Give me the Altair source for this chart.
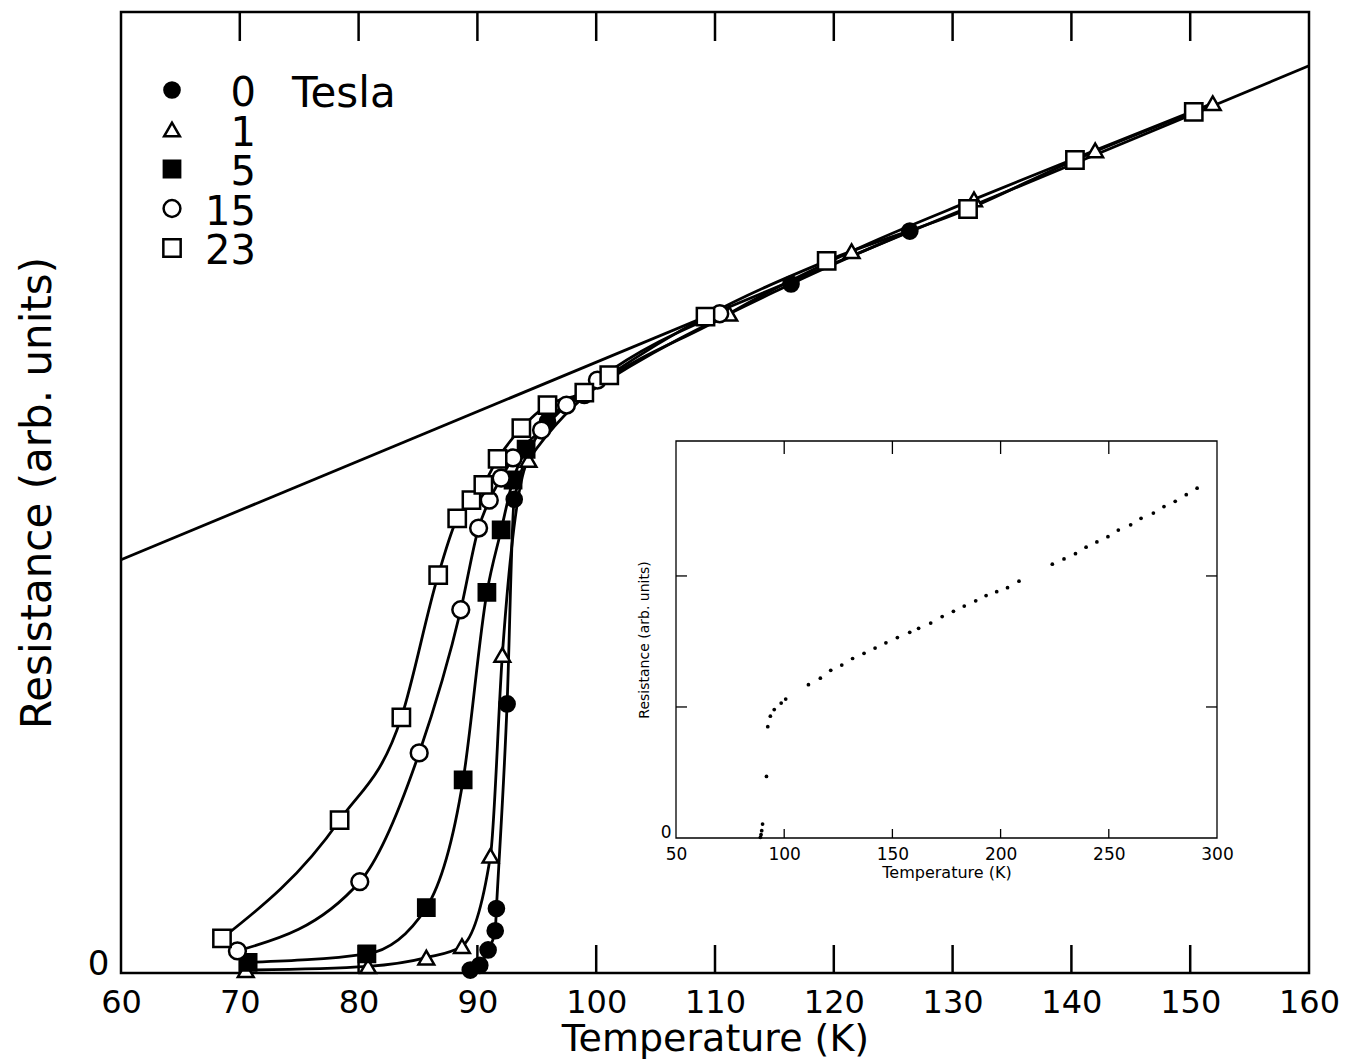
import altair as alt
import pandas as pd

# ---------------- data ----------------
series_labels = ["0", "1", "5", "15", "23"]

b0_T = [89.4, 90.2, 90.9, 91.5, 91.6, 92.5, 93.1, 95.9, 99.0, 116.4, 126.4]
b0_R = [0.3, 0.8, 2.4, 4.4, 6.7, 28.0, 49.3, 57.4, 60.1, 71.7, 77.2]

b1_T = [70.5, 80.8, 85.7, 88.7, 91.1, 92.1, 94.3, 111.2, 121.5, 131.8, 142.0, 151.9]
b1_R = [0.3, 0.7, 1.6, 2.8, 12.2, 33.1, 53.4, 68.6, 75.1, 80.5, 85.6, 90.5]

b5_T = [70.7, 80.7, 85.7, 88.8, 90.8, 92.0, 93.0, 94.1]
b5_R = [1.1, 2.0, 6.8, 20.1, 39.6, 46.1, 51.3, 54.5]

b15_T = [69.8, 80.1, 85.1, 88.6, 90.1, 91.0, 92.0, 93.0, 95.4, 97.5, 100.1, 110.4]
b15_R = [2.3, 9.5, 22.9, 37.8, 46.3, 49.2, 51.5, 53.6, 56.5, 59.1, 61.7, 68.6]

b23_T = [68.5, 78.4, 83.6, 86.7, 88.3, 89.5, 90.5, 91.7, 93.7, 95.9, 99.0, 101.1,
         109.2, 119.4, 131.3, 140.3, 150.3]
b23_R = [3.6, 15.9, 26.6, 41.4, 47.3, 49.2, 50.8, 53.5, 56.7, 59.1, 60.4, 62.2,
         68.3, 74.1, 79.5, 84.6, 89.6]

# linear normal-state extrapolation line (end points)
ref_T = [60, 160]
ref_R = [43.0, 94.4]

# main axis ticks / labels
main_x_ticks = [60, 70, 80, 90, 100, 110, 120, 130, 140, 150, 160]
main_inner_ticks = [70, 80, 90, 100, 110, 120, 130, 140, 150]

# inset (0 T, wide temperature range)
inset_T = [89.0, 89.3, 89.6, 90.0, 91.8, 92.4, 93.6, 95.4, 98.6, 100.7, 111.2, 116.7,
           121.5, 126.6, 131.6, 136.9, 142.0, 147.0, 152.3, 158.0, 162.1, 167.7,
           173.0, 178.2, 183.2, 188.5, 193.3, 198.2, 203.2, 208.5, 223.9, 229.3,
           234.6, 239.5, 244.5, 249.6, 254.4, 260.1, 264.9, 270.6, 275.5, 280.7,
           285.8, 290.8]
inset_R = [0.005, 0.025, 0.056, 0.106, 0.47, 0.85, 0.93, 0.98, 1.03, 1.06, 1.17, 1.22,
           1.28, 1.32, 1.37, 1.41, 1.45, 1.49, 1.53, 1.57, 1.60, 1.64,
           1.69, 1.73, 1.77, 1.81, 1.85, 1.88, 1.91, 1.96, 2.09, 2.13,
           2.17, 2.22, 2.26, 2.30, 2.35, 2.39, 2.44, 2.48, 2.53, 2.57,
           2.62, 2.67]
inset_x_ticks = [50, 100, 150, 200, 250, 300]
inset_inner_x_ticks = [100, 150, 200, 250]
inset_inner_y_ticks = [1, 2]
inset_x_domain = [50, 300]
inset_y_domain = [0, 3.03]

# ---------------- tables ----------------
rows = []
for lab, Ts, Rs in zip(series_labels, [b0_T, b1_T, b5_T, b15_T, b23_T],
                       [b0_R, b1_R, b5_R, b15_R, b23_R]):
    for t, r in zip(Ts, Rs):
        rows.append({"T": t, "R": r, "B": lab})
df = pd.DataFrame(rows)
ref_df = pd.DataFrame({"T": ref_T, "R": ref_R})
tick_df = pd.DataFrame({"tick": main_inner_ticks})
inset_df = pd.DataFrame({"T": inset_T, "R": inset_R})
frame_df = pd.DataFrame({"x0": [inset_x_domain[0]], "x1": [inset_x_domain[1]],
                         "y0": [inset_y_domain[0]], "y1": [inset_y_domain[1]]})
itx_df = pd.DataFrame({"tick": inset_inner_x_ticks})
ity_df = pd.DataFrame({"tick": inset_inner_y_ticks})
legend_df = pd.DataFrame({"B": series_labels})

FONT = "DejaVu Sans"
W, H = 1188, 961
LW = 2.8

# shared encodings for the field strength categories
shape_enc = alt.Shape("B:N", scale=alt.Scale(domain=series_labels,
                      range=["circle", "triangle-up", "square", "circle", "square"]),
                      legend=None)
fill_enc = alt.Fill("B:N", scale=alt.Scale(domain=series_labels,
                    range=["black", "white", "black", "white", "white"]),
                    legend=None)
size_enc = alt.Size("B:N", scale=alt.Scale(domain=series_labels,
                    range=[230, 300, 380, 150, 400]), legend=None)

# ---------------- main panel ----------------
xs = alt.Scale(domain=[60, 160], nice=False, zero=False)
ys = alt.Scale(domain=[0, 100], nice=False, zero=False)
ax_x = alt.Axis(values=main_x_ticks, ticks=False, tickSize=0, domain=False, grid=False,
                labelFontSize=32, labelPadding=14, labelFont=FONT, labelFlush=False,
                labelOverlap=False,
                title="Temperature (K)", titleFontSize=38, titlePadding=2,
                titleFont=FONT, titleFontWeight="normal", labelColor="black",
                titleColor="black")
ax_y = alt.Axis(values=[0], ticks=False, tickSize=0, domain=False, grid=False,
                labelFontSize=34, labelPadding=12, labelFont=FONT, labelFlush=False,
                labelOffset=-9,
                title="Resistance (arb. units)", titleFontSize=42, titlePadding=28,
                titleFont=FONT, titleFontWeight="normal", labelColor="black",
                titleColor="black")


def xm(field):
    return alt.X(f"{field}:Q", scale=xs, axis=ax_x)


def ym(field):
    return alt.Y(f"{field}:Q", scale=ys, axis=ax_y)


ref_line = alt.Chart(ref_df).mark_line(color="black", strokeWidth=LW).encode(
    x=xm("T"), y=ym("R"))

curves = alt.Chart(df).mark_line(color="black", strokeWidth=LW,
                                 interpolate="monotone").encode(
    x=xm("T"), y=ym("R"), detail="B:N")

points = alt.Chart(df).mark_point(filled=True, opacity=1, stroke="black",
                                  strokeWidth=2.5).encode(
    x=xm("T"), y=ym("R"), shape=shape_enc, fill=fill_enc, size=size_enc)

ticks_bottom = alt.Chart(tick_df).mark_rule(color="black", strokeWidth=2.5).encode(
    x=xm("tick"), y=alt.value(H), y2=alt.value(H - 28))
ticks_top = alt.Chart(tick_df).mark_rule(color="black", strokeWidth=2.5).encode(
    x=xm("tick"), y=alt.value(0), y2=alt.value(29))

main = alt.layer(ref_line, curves, ticks_bottom, ticks_top, points)

# ---------------- legend (drawn as marks) ----------------
leg_y = alt.Y("B:N", scale=alt.Scale(domain=series_labels, range=[78, 236],
                                     padding=0), axis=None)
leg_pts = alt.Chart(legend_df).mark_point(filled=True, opacity=1, stroke="black",
                                          strokeWidth=2.5).encode(
    x=alt.value(51), y=leg_y, shape=shape_enc, fill=fill_enc, size=size_enc)
leg_txt = alt.Chart(legend_df).mark_text(
    align="right", baseline="middle", dy=4, fontSize=40, font=FONT,
    color="black").encode(x=alt.value(135), y=leg_y, text="B:N")
tesla = alt.Chart(pd.DataFrame({"label": ["Tesla"]})).mark_text(
    align="left", baseline="middle", fontSize=42, font=FONT, color="black").encode(
    text="label:N", x=alt.value(171), y=alt.value(82))
legend_layer = alt.layer(leg_pts, leg_txt, tesla)

# ---------------- inset panel ----------------
IX0, IX1 = 555, 1096     # inset left / right in plot pixels
IY0, IY1 = 826, 429      # inset bottom / top in plot pixels
ixs = alt.Scale(domain=inset_x_domain, range=[IX0, IX1], nice=False, zero=False)
iys = alt.Scale(domain=inset_y_domain, range=[IY0, IY1], nice=False, zero=False)
iax_x = alt.Axis(orient="bottom", offset=-(H - IY0), values=inset_x_ticks,
                 ticks=False, tickSize=0, domain=False, grid=False, labelFlush=False,
                 labelFontSize=17, labelPadding=8, labelFont=FONT,
                 title="Temperature (K)", titleFontSize=16, titlePadding=2,
                 titleFont=FONT, titleFontWeight="normal", labelColor="black",
                 titleColor="black")
iax_y = alt.Axis(orient="left", offset=-IX0, values=[0], ticks=False, tickSize=0,
                 domain=False, grid=False, labelFontSize=17, labelPadding=5,
                 labelFlush=False, labelOffset=-6,
                 labelFont=FONT, title="Resistance (arb. units)", titleFontSize=14,
                 titlePadding=9, titleFont=FONT, titleFontWeight="normal",
                 labelColor="black", titleColor="black")


def xi(field):
    return alt.X(f"{field}:Q", scale=ixs, axis=iax_x)


def yi(field):
    return alt.Y(f"{field}:Q", scale=iys, axis=iax_y)


frame = alt.Chart(frame_df).mark_rect(fill=None, stroke="black",
                                      strokeWidth=1.3).encode(
    x=xi("x0"), x2="x1", y=yi("y0"), y2="y1")
itb = alt.Chart(itx_df).mark_rule(color="black", strokeWidth=1.3).encode(
    x=xi("tick"), y=alt.value(IY0), y2=alt.value(IY0 - 9))
itt = alt.Chart(itx_df).mark_rule(color="black", strokeWidth=1.3).encode(
    x=xi("tick"), y=alt.value(IY1), y2=alt.value(IY1 + 13))
itl = alt.Chart(ity_df).mark_rule(color="black", strokeWidth=1.3).encode(
    y=yi("tick"), x=alt.value(IX0), x2=alt.value(IX0 + 11))
itr = alt.Chart(ity_df).mark_rule(color="black", strokeWidth=1.3).encode(
    y=yi("tick"), x=alt.value(IX1), x2=alt.value(IX1 - 11))
ipts = alt.Chart(inset_df).mark_circle(color="black", opacity=1, size=14).encode(
    x=xi("T"), y=yi("R"))

inset = alt.layer(frame, itb, itt, itl, itr, ipts)

chart = alt.layer(main, inset, legend_layer).resolve_scale(
    x="independent", y="independent"
).properties(
    width=W, height=H,
    background="white",
    autosize=alt.AutoSizeParams(type="none"),
    padding={"left": 113, "top": 4, "right": 31, "bottom": 86},
).configure_view(
    stroke="black", strokeWidth=2.5
)

chart.save("out.html", embed_options={"renderer": "svg", "actions": False})
